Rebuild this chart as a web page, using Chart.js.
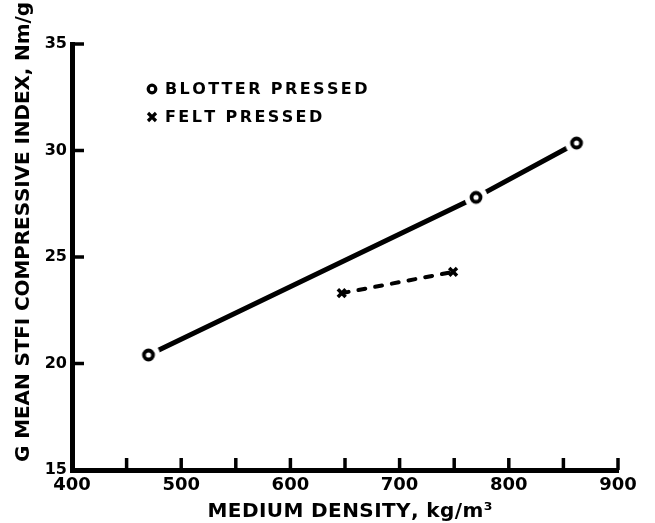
<!DOCTYPE html>
<html>
<head>
<meta charset="utf-8">
<script src="https://cdn.jsdelivr.net/npm/chart.js@4.4.1/dist/chart.umd.min.js"></script>
<style>
  html, body { margin: 0; padding: 0; background: #fff; }
  #wrap { width: 655px; height: 523px; }
</style>
</head>
<body>
<div id="wrap"><canvas id="c" width="655" height="523"></canvas></div>
<script>
// Medium density (kg/m3) vs geometric-mean STFI compressive index (Nm/g)
const blotterDensity = [470, 770, 862];
const blotterIndex   = [20.4, 27.8, 30.35];
const feltDensity    = [647, 749];
const feltIndex      = [23.3, 24.3];

const seriesNames       = ['BLOTTER PRESSED', 'FELT PRESSED'];
const densityTickLabels = ['400', '500', '600', '700', '800', '900'];
const indexTickLabels   = ['15', '20', '25', '30', '35'];
const xTitle = 'MEDIUM DENSITY, kg/m\u00B3';
const yTitle = 'G MEAN STFI COMPRESSIVE INDEX, Nm/g';

const FONT = '"DejaVu Sans", "Liberation Sans", sans-serif';
const INK = '#000';

const toPoints = (xs, ys) => xs.map((x, i) => ({ x, y: ys[i] }));

// open-circle marker with a white clearance ring, so the trend line stops short of it
function ringMarker() {
  const c = document.createElement('canvas');
  c.width = 26; c.height = 26;
  const g = c.getContext('2d');
  g.fillStyle = '#fff';
  g.beginPath(); g.arc(13, 13, 11.5, 0, Math.PI * 2); g.fill();
  g.strokeStyle = INK; g.lineWidth = 3.8;
  g.beginPath(); g.arc(13, 13, 4.5, 0, Math.PI * 2); g.stroke();
  return c;
}

// draws text one character at a time with extra spacing between glyphs
function drawSpaced(ctx, text, x, y, spacing, align) {
  const chars = Array.from(text);
  const widths = chars.map(ch => ctx.measureText(ch).width);
  const total = widths.reduce((a, b) => a + b, 0) + spacing * (chars.length - 1);
  let cx = align === 'center' ? x - total / 2 : x;
  ctx.textAlign = 'left';
  chars.forEach((ch, i) => {
    ctx.fillText(ch, cx, y);
    cx += widths[i] + spacing;
  });
}
function spacingToFit(ctx, text, target) {
  const chars = Array.from(text);
  const natural = chars.reduce((s, ch) => s + ctx.measureText(ch).width, 0);
  return (target - natural) / Math.max(1, chars.length - 1);
}

const decorations = {
  id: 'decorations',
  afterDraw(chart, args, opts) {
    const { ctx, chartArea: area, scales: { x, y } } = chart;
    ctx.save();
    ctx.strokeStyle = INK;
    ctx.fillStyle = INK;
    ctx.lineCap = 'butt';

    // short tick marks pointing into the plot
    ctx.lineWidth = 3.5;
    x.ticks.forEach(t => {
      if (t.value === x.min) return;
      const px = x.getPixelForValue(t.value);
      ctx.beginPath();
      ctx.moveTo(px, area.bottom);
      ctx.lineTo(px, area.bottom - 12);
      ctx.stroke();
    });
    y.ticks.forEach(t => {
      if (t.value === y.min) return;
      const py = y.getPixelForValue(t.value);
      ctx.beginPath();
      ctx.moveTo(area.left, py);
      ctx.lineTo(area.left + 12, py);
      ctx.stroke();
    });

    // key
    ctx.textBaseline = 'middle';
    ctx.font = 'bold 16px ' + FONT;
    const key = opts.key;
    seriesNames.forEach((name, i) => {
      const ry = key.y + i * key.rowGap;
      ctx.lineWidth = 3.2;
      ctx.beginPath();
      if (i === 0) {
        ctx.arc(key.x, ry, 3.8, 0, Math.PI * 2);
      } else {
        ctx.moveTo(key.x - 4, ry - 4); ctx.lineTo(key.x + 4, ry + 4);
        ctx.moveTo(key.x + 4, ry - 4); ctx.lineTo(key.x - 4, ry + 4);
      }
      ctx.stroke();
      drawSpaced(ctx, name, key.textX, ry + 1, key.spacing, 'left');
    });

    // axis titles
    ctx.font = 'bold 20px ' + FONT;
    drawSpaced(ctx, xTitle, opts.xTitle.x, opts.xTitle.y,
      spacingToFit(ctx, xTitle, opts.xTitle.width), 'center');

    ctx.translate(opts.yTitle.x, opts.yTitle.y);
    ctx.rotate(-Math.PI / 2);
    drawSpaced(ctx, yTitle, 0, 0,
      spacingToFit(ctx, yTitle, opts.yTitle.width), 'center');
    ctx.restore();
  }
};

new Chart(document.getElementById('c'), {
  type: 'scatter',
  data: {
    datasets: [
      { // blotter pressed: solid trend with open circles
        label: seriesNames[0],
        data: toPoints(blotterDensity, blotterIndex),
        showLine: true,
        borderColor: INK,
        borderWidth: 5,
        borderCapStyle: 'round',
        pointStyle: ringMarker(),
        pointRadius: 6
      },
      { // felt pressed: dashed trend with crosses
        label: seriesNames[1],
        data: toPoints(feltDensity, feltIndex),
        showLine: true,
        borderColor: INK,
        borderWidth: 4,
        borderDash: [7, 10],
        borderCapStyle: 'round',
        pointStyle: 'crossRot',
        pointRadius: 5.5,
        pointBorderWidth: 3.5,
        pointBorderColor: INK
      }
    ]
  },
  options: {
    responsive: false,
    animation: false,
    devicePixelRatio: 1,
    events: [],
    layout: { padding: { left: 30, right: 37, top: 44, bottom: 0 } },
    plugins: {
      legend: { display: false },
      tooltip: { enabled: false },
      decorations: {
        key: { x: 152, y: 89, rowGap: 28, textX: 165, spacing: 2.4 },
        xTitle: { x: 350, y: 512, width: 285 },
        yTitle: { x: 24, y: 232, width: 460 }
      }
    },
    scales: {
      x: {
        type: 'linear',
        min: 400, max: 900,
        grid: { display: false, drawTicks: false },
        border: { display: true, width: 5, color: INK },
        ticks: {
          stepSize: 50,
          autoSkip: false,
          maxRotation: 0,
          padding: 5,
          color: INK,
          font: { family: FONT, size: 18, weight: 'bold' },
          callback: v => densityTickLabels.includes(String(v)) ? String(v) : ''
        },
        afterFit: s => { s.height = 53; }
      },
      y: {
        type: 'linear',
        min: 15, max: 35,
        grid: { display: false, drawTicks: false },
        border: { display: true, width: 5, color: INK },
        ticks: {
          stepSize: 5,
          padding: 5,
          color: INK,
          font: { family: FONT, size: 16, weight: 'bold' },
          callback: v => indexTickLabels.includes(String(v)) ? String(v) : ''
        },
        afterFit: s => { s.width = 42; }
      }
    }
  },
  plugins: [decorations]
});
</script>
</body>
</html>
